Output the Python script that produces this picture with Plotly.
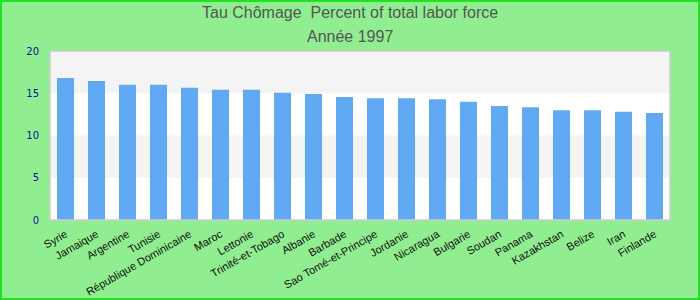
import plotly.graph_objects as go

countries = ["Syrie", "Jamaique", "Argentine", "Tunisie", "République Dominicaine", "Maroc",
             "Lettonie", "Trinité-et-Tobago", "Albanie", "Barbade", "Sao Tomé-et-Principe",
             "Jordanie", "Nicaragua", "Bulgarie", "Soudan", "Panama", "Kazakhstan", "Belize",
             "Iran", "Finlande"]
values = [16.8, 16.45, 16.0, 16.0, 15.65, 15.4, 15.4, 15.05, 14.9, 14.55, 14.4,
          14.4, 14.3, 14.0, 13.5, 13.35, 13.0, 13.0, 12.8, 12.65]
y_ticks = [0, 5, 10, 15, 20]
bands = [(5, 10), (15, 20)]
title_lines = ["Tau Chômage  Percent of total labor force", "Année 1997"]

W, H = 700, 300
ml, mr, mt, mb = 50, 30, 51, 80
pw, ph = W - ml - mr, H - mt - mb

fig = go.Figure(go.Bar(x=countries, y=values, marker_color="#62A9F4",
                       marker_line_width=0))

shapes = []
for y0, y1 in bands:
    shapes.append(dict(type="rect", xref="paper", yref="y", x0=0, x1=1, y0=y0, y1=y1,
                       fillcolor="#F4F4F4", line_width=0, layer="below"))
shapes.append(dict(type="rect", xref="paper", yref="paper", x0=0, x1=1, y0=0, y1=1,
                   line=dict(color="#CCCCCC", width=1.5)))
shapes.append(dict(type="rect", xref="paper", yref="paper",
                   x0=-(ml - 1) / pw, x1=1 + (mr - 1) / pw,
                   y0=-(mb - 1) / ph, y1=1 + (mt - 1) / ph,
                   line=dict(color="#22E022", width=2)))

annotations = []
for i, (txt, ypix) in enumerate(zip(title_lines, [13, 36])):
    annotations.append(dict(text=txt, xref="paper", yref="paper",
                            x=(W / 2 - ml) / pw, y=1 + (mt - ypix) / ph,
                            xanchor="center", yanchor="middle", showarrow=False,
                            font=dict(family="Liberation Sans, Arial", size=16, color="#555555")))

fig.update_layout(
    width=W, height=H,
    margin=dict(l=ml, r=mr, t=mt, b=mb),
    paper_bgcolor="#90EE90",
    plot_bgcolor="#FFFFFF",
    bargap=0.45,
    showlegend=False,
    shapes=shapes,
    annotations=annotations,
    xaxis=dict(tickangle=-30, automargin=False,
               tickfont=dict(family="Liberation Sans, Arial", size=11, color="#111111"),
               showgrid=False, showline=False, ticks="", ticklabelstandoff=5),
    yaxis=dict(range=[0, 20], tickvals=y_ticks, showgrid=False, zeroline=False, automargin=False,
               tickfont=dict(family="DejaVu Sans, Verdana", size=10, color="#1010A0"),
               ticklabelstandoff=10),
)

fig.write_html("out.html")
